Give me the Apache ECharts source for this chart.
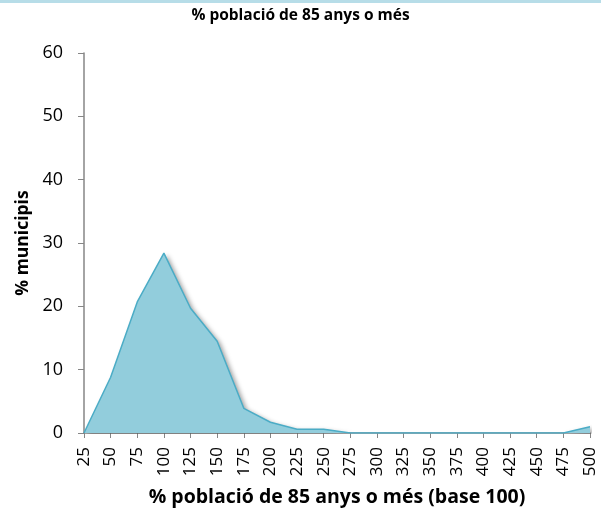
<!DOCTYPE html>
<html>
<head>
<meta charset="utf-8">
<script src="https://cdn.jsdelivr.net/npm/echarts@6/dist/echarts.min.js"></script>
<style>
    html, body { margin: 0; padding: 0; background: #fff; }
    #chart { width: 601px; height: 518px; }
</style>
</head>
<body>
<div id="chart"></div>
<script>
    // categories: % població de 85 anys o més (base 100)
    var categories = ['25', '50', '75', '100', '125', '150', '175', '200', '225', '250',
        '275', '300', '325', '350', '375', '400', '425', '450', '475', '500'];
    // % municipis
    var values = [0, 8.8, 20.7, 28.4, 19.7, 14.5, 3.9, 1.7, 0.6, 0.6,
        0, 0, 0, 0, 0, 0, 0, 0, 0, 1.0];

    var font = '"Open Sans", "Liberation Sans", sans-serif';
    var chart = echarts.init(document.getElementById('chart'));
    chart.setOption({
        animation: false,
        title: {
            text: '% població de 85 anys o més',
            left: 'center',
            top: 3,
            textStyle: { fontFamily: font, fontSize: 15.5, fontWeight: 'bold', color: '#000' }
        },
        graphic: [{
            type: 'rect',
            shape: { x: 0, y: 0, width: 601, height: 3 },
            style: { fill: '#B7DDE8' }
        }],
        grid: { left: 84, right: 11, top: 53, bottom: 85, outerBoundsMode: 'none' },
        xAxis: {
            type: 'category',
            data: categories,
            boundaryGap: false,
            name: '% població de 85 anys o més (base 100)',
            nameLocation: 'middle',
            nameGap: 54,
            nameTextStyle: { fontFamily: font, fontSize: 19.5, fontWeight: 'bold', color: '#000' },
            axisLine: { lineStyle: { color: '#868686', width: 1.5 } },
            axisTick: { alignWithLabel: true, length: 5, lineStyle: { color: '#868686' } },
            axisLabel: { rotate: 90, fontFamily: font, fontSize: 17, color: '#000', margin: 14, interval: 0 }
        },
        yAxis: {
            type: 'value',
            min: 0,
            max: 60,
            interval: 10,
            name: '% municipis',
            nameLocation: 'middle',
            nameGap: 52,
            nameRotate: 90,
            nameTextStyle: { fontFamily: font, fontSize: 17.5, fontWeight: 'bold', color: '#000' },
            axisLine: { show: true, lineStyle: { color: '#868686', width: 1.5 } },
            axisTick: { show: true, length: 6, lineStyle: { color: '#868686' } },
            axisLabel: { fontFamily: font, fontSize: 18, color: '#000', margin: 21 },
            splitLine: { show: false }
        },
        series: [{
            type: 'line',
            data: values,
            symbol: 'none',
            lineStyle: { color: '#4BACC6', width: 1.5 },
            areaStyle: {
                color: '#92CDDC', opacity: 1,
                shadowColor: 'rgba(0,0,0,0.4)', shadowBlur: 5, shadowOffsetX: 3, shadowOffsetY: 2
            }
        }]
    });
</script>
</body>
</html>
